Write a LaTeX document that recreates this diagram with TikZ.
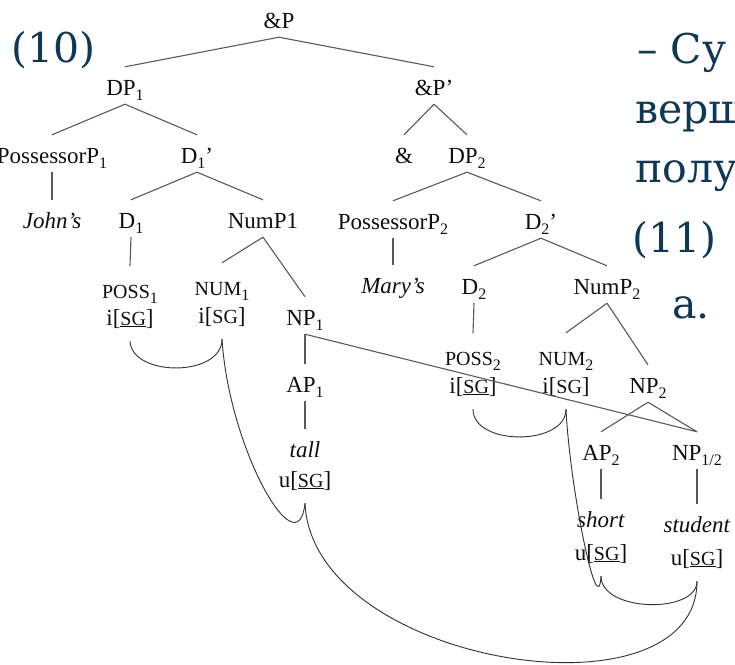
\documentclass[tikz,border=0pt]{standalone}
\usepackage{fontspec}
\setmainfont{Liberation Serif}
\newfontfamily\slidefont{DejaVu Serif}
\definecolor{slideblue}{RGB}{14,56,86}
\definecolor{treeline}{RGB}{90,90,90}
\definecolor{curveline}{RGB}{50,50,50}
\definecolor{treetext}{RGB}{15,15,15}
\newcommand\sbs[1]{\raisebox{-0.22em}{\fontsize{16}{16}\selectfont #1}}
\newcommand\smc[1]{{\fontsize{20}{20}\selectfont #1}}
\tikzset{
  lab/.style={anchor=base, inner xsep=0pt, inner ysep=6pt, text height=22pt, text depth=3pt,
              font=\fontsize{23}{25}\selectfont, text=treetext},
  smcl/.style={lab, text height=26pt},
  feat/.style={lab, text depth=10pt},
  br/.style={draw=treeline, line width=1.1pt},
  agr/.style={draw=curveline, line width=0.9pt},
  slide/.style={anchor=base west, inner sep=0pt, font=\slidefont\fontsize{41}{48}\selectfont, text=slideblue}
}
\begin{document}
\begin{tikzpicture}[x=1pt,y=-1pt]
\useasboundingbox (0,0) rectangle (735,664);
\fill[white] (0,0) rectangle (735,664);
\clip (0,0) rectangle (735,664);
% slide text
\node[slide] (ex10) at (11,62) {(10)};
\node[slide] (l1) at (637,63) {– Су};
\node[slide] (l2) at (635,123) {верш};
\node[slide] (l3) at (635,182) {полу};
\node[slide] (ex11) at (632,252) {(11)};
\node[slide] (la) at (672,318) {a.};
% tree nodes
\node[lab] (andP) at (279,28) {\&P};
\node[lab] (dpA) at (125,95) {DP\sbs{1}};
\node[lab] (andPb) at (434,95) {\&P’};
\node[lab] (ppA) at (52,163) {PossessorP\sbs{1}};
\node[lab] (dbarA) at (197,163) {D\sbs{1}’};
\node[lab] (amp) at (404,163) {\&};
\node[lab] (dpB) at (467,163) {DP\sbs{2}};
\node[lab] (johns) at (52,228) {\textit{John’s}};
\node[lab] (dA) at (131,228) {D\sbs{1}};
\node[lab] (numpA) at (263,228) {NumP1};
\node[lab] (ppB) at (393,229) {PossessorP\sbs{2}};
\node[lab] (dbarB) at (541,229) {D\sbs{2}’};
\node[smcl] (possA) at (130,298) {\smc{POSS}\sbs{1}};
\node[feat] (isgA) at (130,325) {i[\underline{\smc{SG}}]};
\node[smcl] (numA) at (222,295) {\smc{NUM}\sbs{1}};
\node[feat] (isgB) at (222,323) {i[\smc{SG}]};
\node[lab] (npA) at (305,325) {NP\sbs{1}};
\node[lab] (marys) at (393,293) {\textit{Mary’s}};
\node[lab] (dB) at (474,294) {D\sbs{2}};
\node[lab] (numpB) at (607,294) {NumP\sbs{2}};
\node[lab] (apA) at (305,392) {AP\sbs{1}};
\node[smcl] (possB) at (473,365) {\smc{POSS}\sbs{2}};
\node[feat] (isgC) at (473,393) {i[\underline{\smc{SG}}]};
\node[smcl] (numB) at (566,365) {\smc{NUM}\sbs{2}};
\node[feat] (isgD) at (566,393) {i[\smc{SG}]};
\node[lab] (npB) at (648,393) {NP\sbs{2}};
\node[lab] (tall) at (305,457) {\textit{tall}};
\node[feat] (usgA) at (305,487) {u[\underline{\smc{SG}}]};
\node[lab] (apB) at (601,460) {AP\sbs{2}};
\node[lab] (npAB) at (697,460) {NP\sbs{1/2}};
\node[lab] (short) at (601,527) {\textit{short}};
\node[feat] (usgB) at (601,560) {u[\underline{\smc{SG}}]};
\node[lab] (student) at (697,532) {\textit{student}};
\node[feat] (usgC) at (697,565) {u[\underline{\smc{SG}}]};
% branches
\draw[br] (andP.south) -- (dpA.north);
\draw[br] (andP.south) -- (andPb.north);
\draw[br] (dpA.south) -- (ppA.north);
\draw[br] (dpA.south) -- (dbarA.north);
\draw[br] (andPb.south) -- (amp.north);
\draw[br] (andPb.south) -- (dpB.north);
\draw[br] (ppA.south) -- (johns.north);
\draw[br] (dbarA.south) -- (dA.north);
\draw[br] (dbarA.south) -- (numpA.north);
\draw[br] (dpB.south) -- (ppB.north);
\draw[br] (dpB.south) -- (dbarB.north);
\draw[br] (dA.south) -- (possA.north);
\draw[br] (numpA.south) -- (numA.north);
\draw[br] (numpA.south) -- (npA.north);
\draw[br] (ppB.south) -- (marys.north);
\draw[br] (dbarB.south) -- (dB.north);
\draw[br] (dbarB.south) -- (numpB.north);
\draw[br] (dB.south) -- (possB.north);
\draw[br] (numpB.south) -- (numB.north);
\draw[br] (numpB.south) -- (npB.north);
\draw[br] (npA.south) -- (apA.north);
\draw[br] (npA.south) -- (npAB.north);
\draw[br] (apA.south) -- (tall.north);
\draw[br] (npB.south) -- (apB.north);
\draw[br] (npB.south) -- (npAB.north);
\draw[br] (apB.south) -- (short.north);
\draw[br] (npAB.south) -- (student.north);
% agreement arcs
\draw[agr] (isgA.south) .. controls +(2,36) and +(0,38) .. (isgB.south);
\draw[agr] (isgB.south) .. controls +(7,110) and +(-7,67) .. (usgA.south);
\draw[agr] (usgA.south) .. controls +(7,162) and +(0,144) .. (usgC.south);
\draw[agr] (isgC.south) .. controls +(0,37) and +(0,37) .. (isgD.south);
\draw[agr] (isgD.south) .. controls +(4,81) and +(-3,49) .. (usgB.south);
\draw[agr] (usgB.south) .. controls +(0,36) and +(0,33) .. (usgC.south);
\end{tikzpicture}
\end{document}
